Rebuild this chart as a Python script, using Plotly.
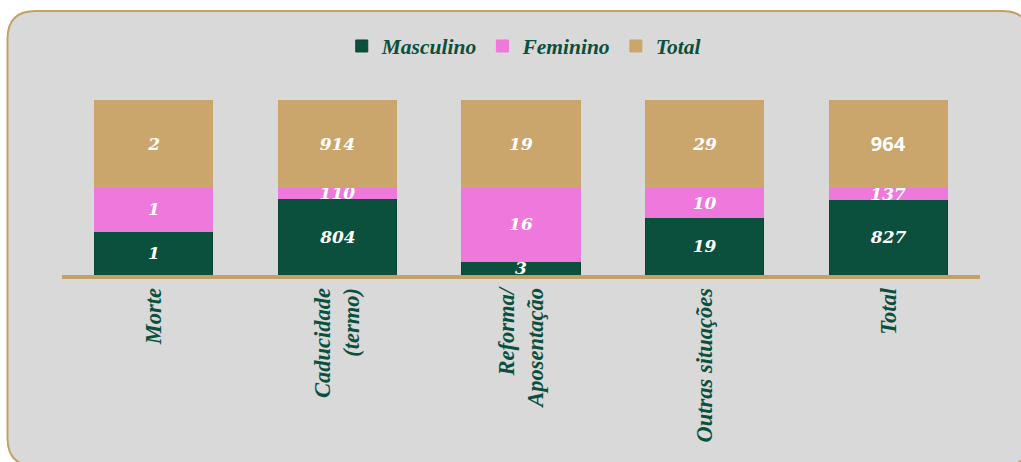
import plotly.graph_objects as go

# Saídas por motivo, por sexo
categorias = ["Morte", "Caducidade<br>(termo)", "Reforma/<br>Aposentação",
              "Outras situações", "Total"]
masculino = [1, 804, 3, 19, 827]
feminino = [1, 110, 16, 10, 137]
total = [2, 914, 19, 29, 964]

VERDE = "#0B4F3D"
ROSA = "#EE78DC"
OURO = "#CBA66C"
LINHA = "#C4A064"
FUNDO = "#D9D9D9"
SERIF = "Liberation Serif"
SERIF_NUM = "DejaVu Serif"

W, H = 1021, 462
ML, MR, MT, MB = 62, 41, 100, 187
PW, PH = W - ML - MR, H - MT - MB


def px_to_paper(x, y):
    return (x - ML) / PW, (H - MB - y) / PH


def rounded_rect(x0, y0, x1, y1, r):
    pts = [
        ("M", [(x0 + r, y0)]), ("L", [(x1 - r, y0)]),
        ("Q", [(x1, y0), (x1, y0 + r)]), ("L", [(x1, y1 - r)]),
        ("Q", [(x1, y1), (x1 - r, y1)]), ("L", [(x0 + r, y1)]),
        ("Q", [(x0, y1), (x0, y1 - r)]), ("L", [(x0, y0 + r)]),
        ("Q", [(x0, y0), (x0 + r, y0)]),
    ]
    parts = []
    for cmd, coords in pts:
        c = " ".join("%.5f,%.5f" % px_to_paper(a, b) for a, b in coords)
        parts.append(f"{cmd} {c}")
    return " ".join(parts) + " Z"


def label_fonts(n, special=None):
    fam = [SERIF_NUM] * n
    sty = ["italic"] * n
    size = [17] * n
    if special is not None:
        fam[special] = "Open Sans"
        sty[special] = "normal"
        size[special] = 20
    return fam, sty, size


fig = go.Figure()
series = [("Masculino", masculino, VERDE, None),
          ("Feminino", feminino, ROSA, None),
          ("Total", total, OURO, len(total) - 1)]
for nome, vals, cor, esp in series:
    fam, sty, size = label_fonts(len(vals), esp)
    fig.add_trace(go.Bar(
        name=nome, x=categorias, y=vals,
        marker=dict(color=cor,
                    line=dict(color="#0A4434" if cor == VERDE else cor, width=1)),
        text=[str(v) for v in vals], textposition="inside",
        insidetextanchor="middle", textangle=0, constraintext="none",
        textfont=dict(color="white", size=size, family=fam, style=sty,
                      weight="bold"),
        hoverinfo="skip",
    ))

fig.update_layout(
    width=W, height=H, autosize=False,
    margin=dict(l=ML, r=MR, t=MT, b=MB, pad=0),
    barmode="stack", barnorm="percent", bargap=0.357,
    paper_bgcolor="white", plot_bgcolor="rgba(0,0,0,0)",
    showlegend=True,
    legend=dict(orientation="h", x=0.503, xanchor="center",
                y=px_to_paper(0, 46)[1], yanchor="middle",
                font=dict(family=SERIF, size=21.5, color=VERDE,
                          style="italic", weight="bold"),
                bgcolor="rgba(0,0,0,0)", itemwidth=30, traceorder="normal"),
    xaxis=dict(range=[-0.5, 4.5], showgrid=False, zeroline=False,
               showline=True, linecolor=LINHA, linewidth=4,
               ticks="", tickangle=-90,
               tickfont=dict(family=SERIF, size=22.5, color=VERDE,
                             style="italic", weight="bold")),
    yaxis=dict(range=[0, 100], visible=False, fixedrange=True),
    shapes=[dict(type="path", xref="paper", yref="paper", layer="below",
                 path=rounded_rect(7.5, 11, 1030, 466, 28),
                 fillcolor=FUNDO, line=dict(color=LINHA, width=2))],
)

fig.write_html("out.html")
